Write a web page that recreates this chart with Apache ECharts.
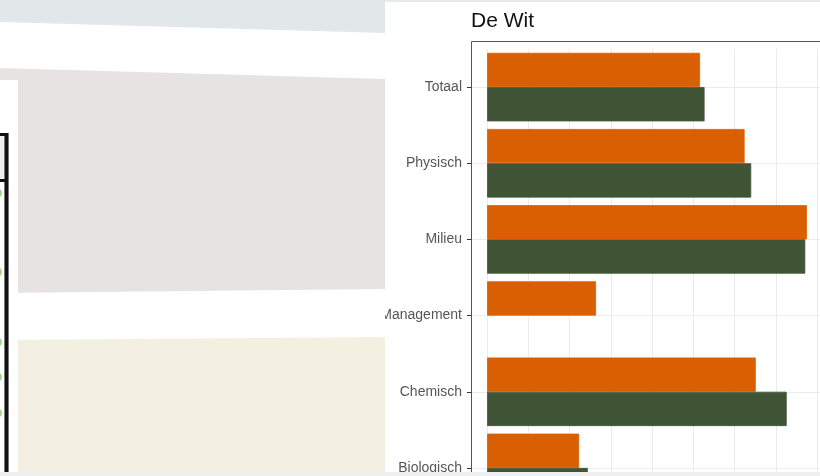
<!DOCTYPE html>
<html>
<head>
<meta charset="utf-8">
<title>De Wit</title>
<script src="https://cdn.jsdelivr.net/npm/echarts@6/dist/echarts.min.js"></script>
<style>
  html, body { margin: 0; padding: 0; background: #fff; }
  #chart { width: 820px; height: 476px; }
</style>
</head>
<body>
<div id="chart"></div>
<script>
// categorieen van boven naar onder
var categories = ["Totaal", "Physisch", "Milieu", "Management", "Chemisch", "Biologisch"];
var oranje = [5.16, 6.24, 7.75, 2.64, 6.51, 2.23];
var groen = [5.27, 6.40, 7.71, null, 7.26, 2.44];
var xMin = -0.39;
var xMax = 8.14;

var font = "Liberation Sans, Arial, sans-serif";

var chart = echarts.init(document.getElementById("chart"));

// achtergrond links (wazige pagina) + paneelrand
var decor = [
  { type: "polygon", z: -10, shape: { points: [[0, 0], [385, 0], [385, 33], [0, 22]] }, style: { fill: "#e2e8ea" } },
  { type: "polygon", z: -10, shape: { points: [[0, 68], [385, 79], [385, 289], [0, 293]] }, style: { fill: "#e7e3e3" } },
  { type: "polygon", z: -10, shape: { points: [[0, 340], [385, 337], [385, 476], [0, 476]] }, style: { fill: "#f4f0e1" } },
  { type: "rect", z: -9, shape: { x: 0, y: 80, width: 18, height: 396 }, style: { fill: "#fff" } },
  { type: "rect", z: -8, shape: { x: 0, y: 135, width: 6, height: 45 }, style: { fill: "#efefef" } },
  { type: "rect", z: -7, shape: { x: 0, y: 133, width: 8, height: 3 }, style: { fill: "#111" } },
  { type: "rect", z: -7, shape: { x: 0, y: 179, width: 8, height: 3 }, style: { fill: "#111" } },
  { type: "rect", z: -7, shape: { x: 5, y: 133, width: 3, height: 343 }, style: { fill: "#111" } },
  { type: "rect", z: -8, shape: { x: 4, y: 133, width: 5, height: 343 }, style: { fill: "#777" } },
  // label "Management" valt buiten de uitsnede
  { type: "rect", z: 25, shape: { x: 360, y: 300, width: 25, height: 30 }, style: { fill: "#fff" } },
  { type: "rect", z: 20, shape: { x: 385, y: 0, width: 435, height: 2 }, style: { fill: "#e6eaeb" } },
  { type: "rect", z: 20, shape: { x: 471.5, y: 41.5, width: 360, height: 475 }, style: { fill: "none", stroke: "#555", lineWidth: 1 } },
  { type: "rect", z: 30, shape: { x: 0, y: 472, width: 820, height: 4 }, style: { fill: "#efefef" } }
];
[193, 272, 342, 377, 413].forEach(function (y) {
  decor.push({ type: "circle", z: -6, shape: { cx: -3, cy: y, r: 5 }, style: { fill: "#a6d490" } });
});

chart.setOption({
  backgroundColor: "#fff",
  animation: false,
  title: {
    text: "De Wit",
    left: 471,
    top: 11,
    padding: 0,
    textStyle: { fontFamily: font, fontSize: 21, fontWeight: "normal", color: "#111" }
  },
  grid: { left: 471, top: 49, width: 352, height: 457, containLabel: false, outerBoundsMode: "none" },
  xAxis: {
    type: "value",
    min: xMin,
    max: xMax,
    minInterval: 1,
    maxInterval: 1,
    axisLine: { show: false },
    axisTick: { show: false },
    axisLabel: { show: false },
    splitLine: { show: true, lineStyle: { color: "#ebebeb", width: 1 } }
  },
  yAxis: {
    type: "category",
    inverse: true,
    data: categories,
    axisLine: { show: true, onZero: false, lineStyle: { color: "#555" } },
    axisTick: { show: true, inside: false, alignWithLabel: true, length: 4, lineStyle: { color: "#333", width: 1 } },
    axisLabel: { margin: 9, fontFamily: font, fontSize: 14, color: "#555" },
    splitLine: { show: false }
  },
  graphic: decor,
  series: [
    {
      // horizontale rasterlijnen op de categorieen
      type: "line",
      z: 1,
      data: categories.map(function () { return null; }),
      showSymbol: false,
      silent: true,
      markLine: {
        z: 0,
        silent: true,
        symbol: "none",
        label: { show: false },
        lineStyle: { color: "#ebebeb", width: 1, type: "solid" },
        data: categories.map(function (c) { return { yAxis: c }; })
      }
    },
    {
      name: "oranje",
      type: "bar",
      z: 2,
      data: oranje,
      barGap: "0%",
      barCategoryGap: "10%",
      itemStyle: { color: "#da5f02", borderColor: "#da5f02", borderWidth: 0.8 }
    },
    {
      name: "groen",
      type: "bar",
      z: 2,
      data: groen,
      barGap: "0%",
      barCategoryGap: "10%",
      itemStyle: { color: "#3f5535", borderColor: "#3f5535", borderWidth: 0.8 }
    }
  ]
});
</script>
</body>
</html>
